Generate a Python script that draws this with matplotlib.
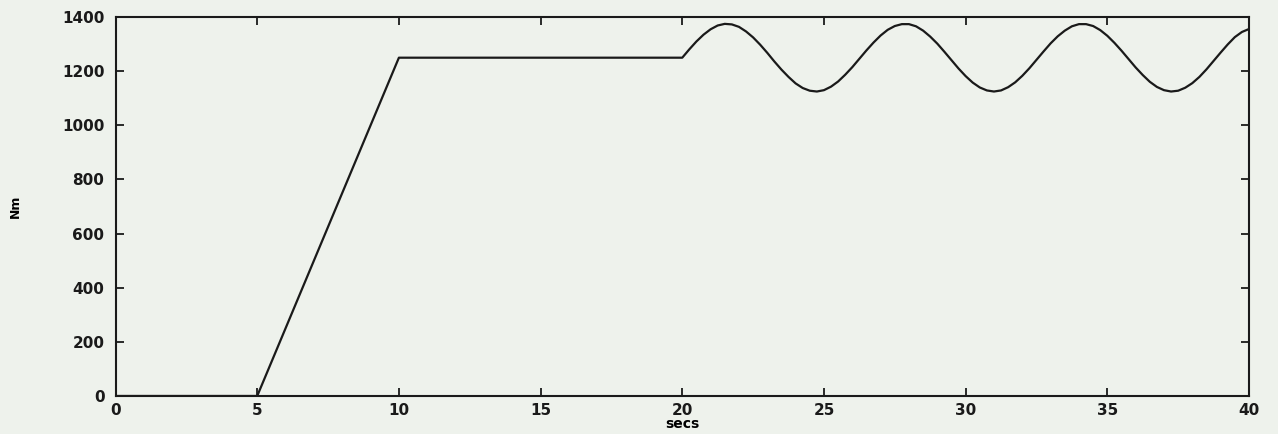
import numpy as np
import matplotlib
matplotlib.use("Agg")
import matplotlib.pyplot as plt

# torque command (Nm vs secs)
t_ramp = [0, 5, 10, 20]
nm_ramp = [0, 0, 1250, 1250]

# oscillating part, sampled every 0.25 s from 20 to 40 s
t_osc = np.arange(20.0, 40.001, 0.25)
nm_osc = [1250, 1281, 1310, 1335, 1355, 1369, 1375, 1373, 1364, 1347,
          1325, 1298, 1268, 1236, 1206, 1179, 1155, 1138, 1128, 1125,
          1130, 1143, 1162, 1187, 1215, 1246, 1277, 1306, 1332, 1353,
          1367, 1374, 1374, 1366, 1350, 1328, 1302, 1272, 1241, 1210,
          1182, 1158, 1140, 1129, 1125, 1129, 1141, 1159, 1183, 1211,
          1242, 1273, 1303, 1329, 1350, 1366, 1374, 1374, 1367, 1352,
          1331, 1305, 1276, 1245, 1214, 1186, 1161, 1142, 1130, 1125,
          1128, 1139, 1156, 1179, 1207, 1238, 1269, 1299, 1326, 1345,
          1356]

xticks = [0, 5, 10, 15, 20, 25, 30, 35, 40]
yticks = [0, 200, 400, 600, 800, 1000, 1200, 1400]

bg = '#eef2ec'
ink = '#1a1a1a'
plt.rcParams['font.family'] = ['DejaVu Sans']
plt.rcParams['font.weight'] = 'bold'

fig = plt.figure(figsize=(12.78, 4.34), dpi=100, facecolor=bg)
ax = fig.add_axes([0.0904, 0.0876, 0.8869, 0.873])
ax.set_facecolor(bg)

t = list(t_ramp) + list(t_osc[1:])
nm = list(nm_ramp) + list(nm_osc[1:])
ax.plot(t, nm, color=ink, lw=1.6)

ax.set_xlim(0, 40)
ax.set_ylim(0, 1400)
ax.set_xticks(xticks)
ax.set_yticks(yticks)
ax.tick_params(direction='in', length=6, width=1.3, top=True, right=True,
               labelsize=11, colors=ink)
ax.tick_params(axis='x', pad=5)
ax.tick_params(axis='y', pad=8)
for s in ax.spines.values():
    s.set_linewidth(1.5)
    s.set_color(ink)

ax.set_xlabel('secs', fontsize=10, fontweight='bold', labelpad=-1)
ax.set_ylabel('Nm', fontsize=9, fontweight='bold', labelpad=29)

fig.savefig('out.png', dpi=100, facecolor=bg)
